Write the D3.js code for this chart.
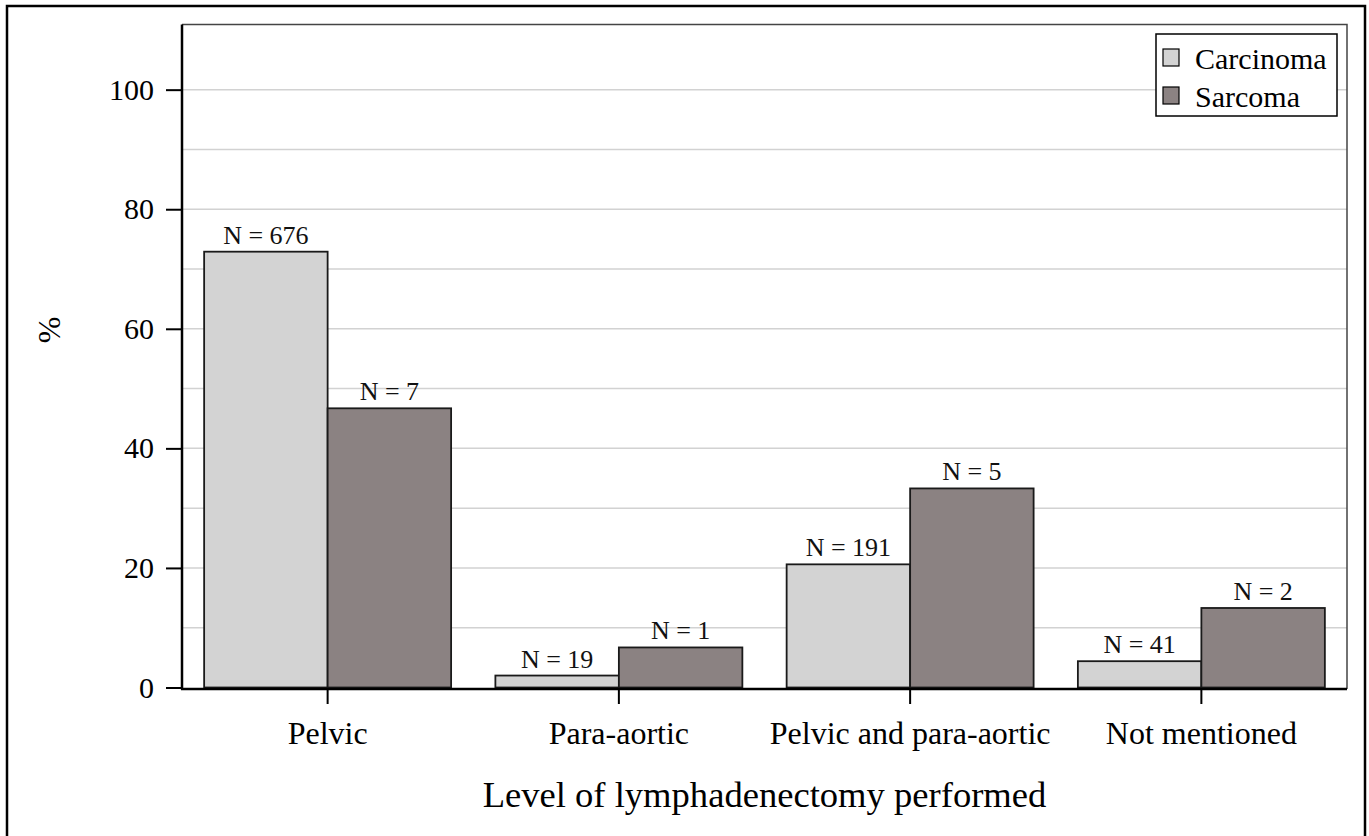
<!DOCTYPE html>
<html>
<head>
<meta charset="utf-8">
<script src="https://cdn.jsdelivr.net/npm/d3@7"></script>
<style>
  body { margin: 0; background: #fff; }
  svg { display: block; font-family: "Liberation Serif", "Times New Roman", serif; }
</style>
</head>
<body>
<div id="chart"></div>
<script>
// data
const categories = ["Pelvic", "Para-aortic", "Pelvic and para-aortic", "Not mentioned"];
const groups = ["Carcinoma", "Sarcoma"];
const carcinomaPct = [72.9, 2.0, 20.6, 4.4];
const sarcomaPct = [46.7, 6.7, 33.3, 13.3];
const carcinomaN = [676, 19, 191, 41];
const sarcomaN = [7, 1, 5, 2];
const yTicks = [0, 20, 40, 60, 80, 100];
const yGrid = [10, 20, 30, 40, 50, 60, 70, 80, 90, 100];

const colors = {Carcinoma: "#d3d3d3", Sarcoma: "#8b8282"};

const W = 1369, H = 836;
const plot = {left: 182, right: 1347, top: 24.5, bottom: 687.5};

const rows = categories.map((c, i) => ({
  category: c,
  values: [
    {group: "Carcinoma", pct: carcinomaPct[i], n: carcinomaN[i]},
    {group: "Sarcoma", pct: sarcomaPct[i], n: sarcomaN[i]}
  ]
}));

const svg = d3.select("#chart").append("svg")
  .attr("width", W)
  .attr("height", H);

// outer frame
svg.append("rect")
  .attr("x", 7).attr("y", 6)
  .attr("width", 1358).attr("height", 840)
  .attr("fill", "none").attr("stroke", "#000").attr("stroke-width", 2.5);

const x = d3.scaleBand()
  .domain(categories)
  .range([plot.left, plot.right])
  .paddingInner(0.152)
  .paddingOuter(0.076);

const xSub = d3.scaleBand()
  .domain(groups)
  .range([0, x.bandwidth()]);

const y = d3.scaleLinear()
  .domain([0, 110.9])
  .range([plot.bottom, plot.top]);

// grid lines
svg.append("g")
  .selectAll("line")
  .data(yGrid)
  .join("line")
  .attr("x1", plot.left).attr("x2", plot.right)
  .attr("y1", d => y(d)).attr("y2", d => y(d))
  .attr("stroke", "#d2d2d2").attr("stroke-width", 1.5);

// plot frame (top, right)
svg.append("path")
  .attr("d", `M${plot.left},${plot.top}H${plot.right}V${plot.bottom + 1.5}`)
  .attr("fill", "none").attr("stroke", "#444").attr("stroke-width", 1.5);

// bars
const grp = svg.append("g")
  .selectAll("g")
  .data(rows)
  .join("g")
  .attr("transform", d => `translate(${x(d.category)},0)`);

grp.selectAll("rect")
  .data(d => d.values)
  .join("rect")
  .attr("x", d => xSub(d.group))
  .attr("y", d => y(d.pct))
  .attr("width", xSub.bandwidth())
  .attr("height", d => y(0) - y(d.pct))
  .attr("fill", d => colors[d.group])
  .attr("stroke", "#1a1a1a")
  .attr("stroke-width", 1.8);

grp.selectAll("text")
  .data(d => d.values)
  .join("text")
  .attr("x", d => xSub(d.group) + xSub.bandwidth() / 2)
  .attr("y", d => y(d.pct) - 8)
  .attr("text-anchor", "middle")
  .attr("font-size", 26)
  .attr("fill", "#111")
  .text(d => "N = " + d.n);

// y axis
const yAxis = svg.append("g")
  .attr("transform", `translate(${plot.left},0)`)
  .call(d3.axisLeft(y).tickValues(yTicks).tickSize(16).tickPadding(12).tickFormat(d3.format("d")));
yAxis.select(".domain").remove();
yAxis.selectAll(".tick line").attr("stroke", "#000").attr("stroke-width", 2);
yAxis.selectAll(".tick text").attr("font-size", 30).attr("font-family", "Liberation Serif").attr("fill", "#000");
svg.append("line")
  .attr("x1", plot.left).attr("x2", plot.left)
  .attr("y1", plot.top).attr("y2", plot.bottom + 2)
  .attr("stroke", "#000").attr("stroke-width", 2.5);

// x axis
const xAxis = svg.append("g")
  .attr("transform", `translate(0,${plot.bottom + 1.5})`)
  .call(d3.axisBottom(x).tickSize(15).tickPadding(17));
xAxis.select(".domain").remove();
xAxis.selectAll(".tick line").attr("stroke", "#000").attr("stroke-width", 2);
xAxis.selectAll(".tick text").attr("font-size", 32).attr("font-family", "Liberation Serif").attr("fill", "#000");
svg.append("line")
  .attr("x1", plot.left - 1).attr("x2", plot.right)
  .attr("y1", plot.bottom + 1.5).attr("y2", plot.bottom + 1.5)
  .attr("stroke", "#000").attr("stroke-width", 2.5);

// axis titles
svg.append("text")
  .attr("x", (plot.left + plot.right) / 2)
  .attr("y", 807)
  .attr("text-anchor", "middle")
  .attr("font-size", 36.6)
  .text("Level of lymphadenectomy performed");

svg.append("text")
  .attr("transform", "translate(60,330) rotate(-90)")
  .attr("text-anchor", "middle")
  .attr("font-size", 32)
  .text("%");

// legend
const legend = svg.append("g");
legend.append("rect")
  .attr("x", 1156).attr("y", 34)
  .attr("width", 181).attr("height", 82)
  .attr("fill", "#fff").attr("stroke", "#000").attr("stroke-width", 1.5);

const items = legend.selectAll("g")
  .data(groups)
  .join("g")
  .attr("transform", (d, i) => `translate(1163,${49 + i * 38})`);
items.append("rect")
  .attr("width", 16).attr("height", 17)
  .attr("fill", d => colors[d])
  .attr("stroke", "#000").attr("stroke-width", 1.2);
items.append("text")
  .attr("x", 32).attr("y", 20)
  .attr("font-size", 30)
  .text(d => d);
</script>
</body>
</html>
